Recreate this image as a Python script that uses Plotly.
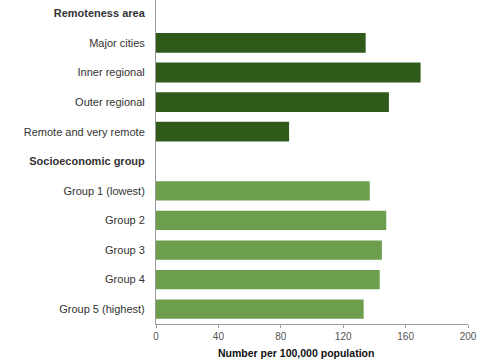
import plotly.graph_objects as go

# Category rows (top to bottom), including the two group headings
remoteness = ["Major cities", "Inner regional", "Outer regional", "Remote and very remote"]
remoteness_rate = [134.4, 169.6, 149.3, 85.3]

socioeconomic = ["Group 1 (lowest)", "Group 2", "Group 3", "Group 4", "Group 5 (highest)"]
socioeconomic_rate = [137.0, 147.6, 144.8, 143.4, 133.1]

heading_remote = "Remoteness area"
heading_socio = "Socioeconomic group"

x_ticks = [0, 40, 80, 120, 160, 200]

rows = [heading_remote] + remoteness + [heading_socio] + socioeconomic
row_text = [f"<b>{r}</b>" if r in (heading_remote, heading_socio) else r for r in rows]

DARK = "#2f5a1a"
LIGHT = "#6c9e4e"

fig = go.Figure()
fig.add_trace(go.Bar(
    y=remoteness, x=remoteness_rate, orientation="h",
    marker=dict(color=DARK, line=dict(width=0)), width=0.67, showlegend=False,
))
fig.add_trace(go.Bar(
    y=socioeconomic, x=socioeconomic_rate, orientation="h",
    marker=dict(color=LIGHT, line=dict(width=0)), width=0.65, showlegend=False,
))

fig.update_layout(
    width=489, height=364,
    margin=dict(l=156, r=21, t=0, b=40),
    paper_bgcolor="white", plot_bgcolor="white",
    font=dict(family="Liberation Sans, Arial, sans-serif", size=11, color="#444"),
    barmode="overlay",
    xaxis=dict(
        range=[0, 200], tickvals=x_ticks, ticktext=[str(v) for v in x_ticks],
        showgrid=False, zeroline=False,
        showline=True, linecolor="#9a9a9a", linewidth=1,
        ticks="outside", ticklen=3, tickcolor="#9a9a9a",
        tickfont=dict(size=10, color="#555"),
    ),
    yaxis=dict(
        type="category", categoryorder="array", categoryarray=rows,
        tickvals=rows, ticktext=row_text,
        range=[10.5, -0.45],
        showgrid=False, zeroline=False,
        showline=True, linecolor="#9a9a9a", linewidth=1,
        ticks="", ticklabelstandoff=8,
        tickfont=dict(size=11, color="#333"),
    ),
    annotations=[dict(
        text="<b>Number per 100,000 population</b>",
        xref="x", yref="paper", x=90, y=0, yshift=-29,
        xanchor="center", yanchor="middle", showarrow=False,
        font=dict(size=10.5, color="#111"),
    )],
)

fig.write_html("out.html")
